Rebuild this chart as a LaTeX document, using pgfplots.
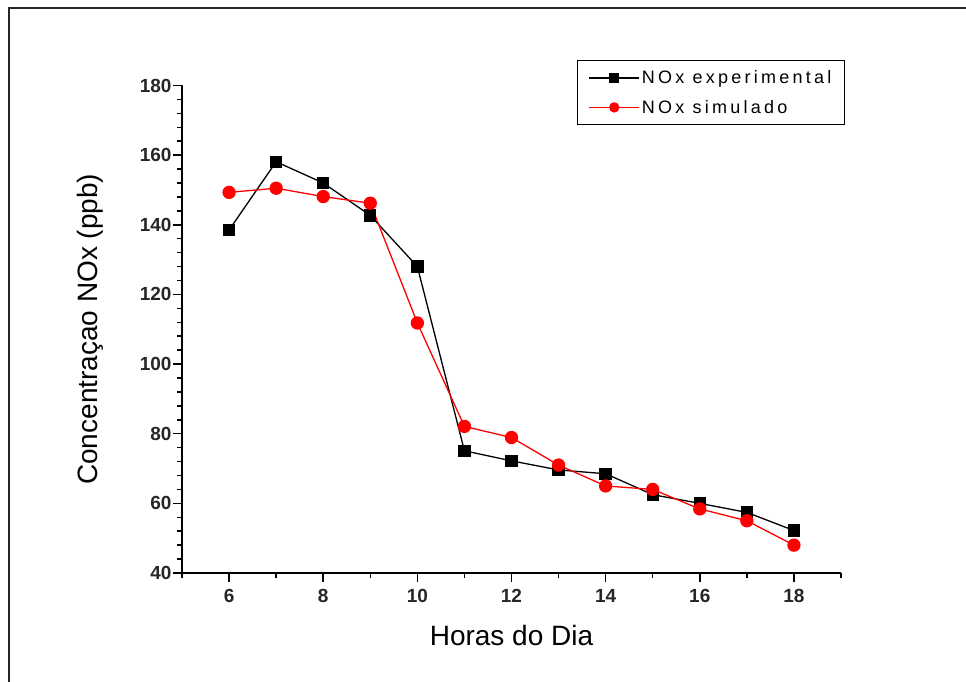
\documentclass[border=0pt]{standalone}
\usepackage{fontspec}
\setmainfont{Liberation Sans}
\usepackage{pgfplots}
\pgfplotsset{compat=1.18}
\begin{document}
\begin{tikzpicture}[x=1pt,y=1pt]
\useasboundingbox (-182,-109) rectangle (784,573);
\draw[line width=2pt, black!85] (-173,-115) -- (-173,565) -- (790,565);
\begin{axis}[
  at={(0,0)}, anchor=south west,
  scale only axis, width=659pt, height=487.5pt,
  xmin=5, xmax=19, ymin=40, ymax=180,
  axis x line=bottom, axis y line=left,
  axis line style={-, line width=1.5pt},
  xtick={6,8,...,18}, minor xtick={5,7,...,19},
  ytick={40,60,...,180}, minor y tick num=4,
  tick align=outside,
  major tick length=9pt, minor tick length=5pt,
  every tick/.style={black, line width=1.5pt},
  /pgf/number format/assume math mode=true,
  tick label style={font=\bfseries\fontsize{19}{19}\selectfont, text=black!85},
  xticklabel style={yshift=-4pt},
  yticklabel style={xshift=2pt},
  xlabel={Horas do Dia},
  ylabel={Concentraçao NOx (ppb)},
  label style={font=\fontsize{28}{30}\selectfont},
  xlabel style={at={(axis description cs:0.5,-0.1292)}, anchor=center},
  ylabel style={at={(axis description cs:-0.1396,0.5)}, anchor=center, rotate=0},
  legend style={at={(axis description cs:0.5994,1.0523)}, anchor=north west,
    draw=black, line width=1.2pt, fill=white, inner xsep=11pt, inner ysep=8pt,
    row sep=11pt,
    font=\fontsize{18}{18}\selectfont\addfontfeature{LetterSpace=18}},
  legend cell align=left,
  legend image code/.code={\draw[#1, line width=1.3pt, mark size=4.5pt, mark repeat=2, mark phase=2] plot coordinates {(0pt,0pt) (25pt,0pt) (50pt,0pt)};},
  clip=false,
]
\addplot[black, line width=1.3pt, mark=square*, mark size=5.5pt] coordinates {
(6,138.5) (7,158.1) (8,152) (9,142.7) (10,128) (11,75.1) (12,72.2) (13,69.6) (14,68.5) (15,62.5) (16,60) (17,57.4) (18,52.2)};
\addlegendentry{NOx experimental}
\addplot[red, line width=1.3pt, mark=*, mark size=6pt] coordinates {
(6,149.3) (7,150.5) (8,148.1) (9,146.2) (10,111.8) (11,82.1) (12,78.9) (13,71) (14,65) (15,64) (16,58.4) (17,55) (18,48)};
\addlegendentry{NOx simulado}
\end{axis}
\end{tikzpicture}
\end{document}
